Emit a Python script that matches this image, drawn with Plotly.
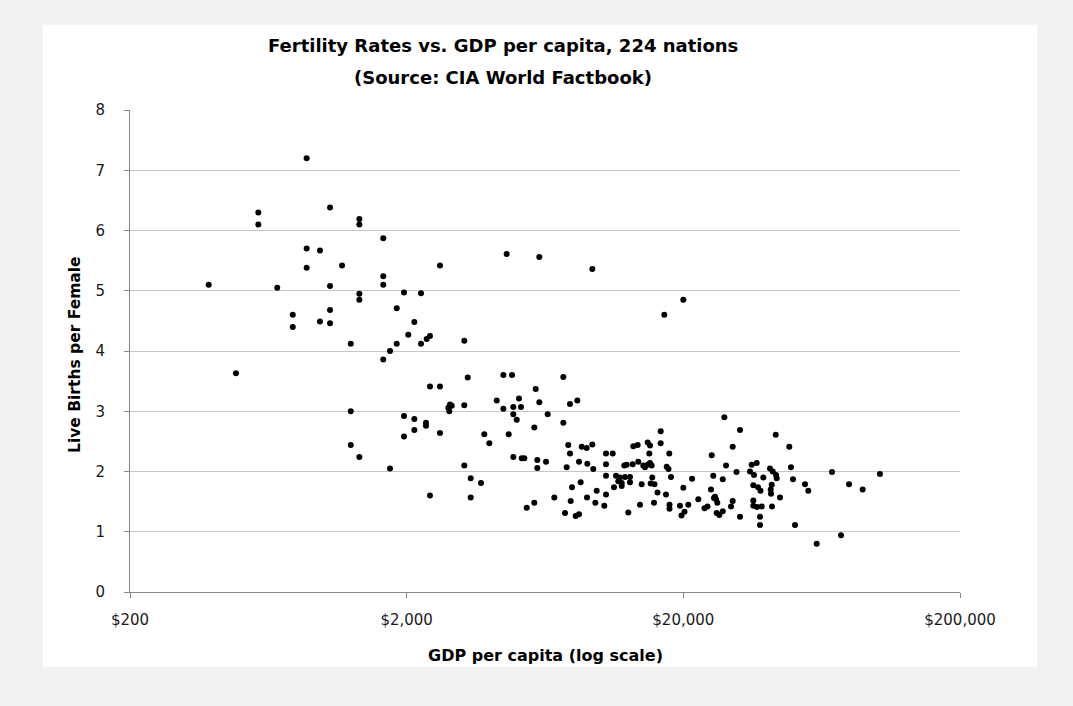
import plotly.graph_objects as go

# GDP per capita (US$) and fertility (live births per female)
gdp = [385, 483, 582, 582, 681, 775, 775, 870, 870, 870,
       972, 972, 1057, 1057, 1057, 1057, 1168, 1256, 1256, 1256,
       1349, 1349, 1349, 1349, 1349, 1646, 1646, 1646, 1646, 1741,
       1741, 1841, 1841, 1956, 1956, 1956, 2027, 2132, 2254, 2254,
       2363, 2428, 2639, 3231, 3324, 4472, 4807, 7366, 4598, 6032,
       9376, 2428, 2639, 5854, 4232, 5094, 6032, 8277, 7787, 2868,
       2910, 2829, 2852, 3231, 4858, 5178, 4472, 4858, 4998, 6467,
       2132, 2349, 2349, 7366, 5785, 2132, 2639, 3816, 4676, 3978,
       7677, 8585, 8948, 9376, 7787, 4858, 5209, 5324, 5932, 6378,
       8394, 8994, 5932, 7577, 9454, 3231, 3408, 3712, 7918, 8511,
       9725, 2428, 3408, 5785, 5432, 6835, 7832, 8972, 9613, 7470,
       8166, 8394, 20000, 17070, 16566, 16566, 13188, 13677, 14864, 15152,
       10508, 11111, 15067, 17794, 25328, 10508, 12235, 12484, 13122, 13746,
       14335, 14538, 14864, 15152, 15367, 17414, 17677, 10508, 11420, 11807,
       12307, 12830, 15444, 18050, 21506, 25660, 11640, 11974, 12830, 14142,
       15243, 15732, 11232, 11974, 20000, 25179, 10508, 16130, 17311, 26024,
       10359, 13943, 15664, 17826, 17826, 19450, 20843, 22651, 24454, 23853,
       20194, 19694, 12652, 26400, 26247, 28138, 32057, 43147, 30163, 48306,
       28530, 35327, 36825, 34829, 36011, 38907, 41142, 42080, 43254, 43505,
       48983, 49812, 31130, 27767, 55052, 56590, 35804, 37232, 38011, 41733,
       41384, 41489, 44712, 25813, 26533, 30163, 29741, 35804, 35804, 36921,
       38396, 41823, 27767, 26977, 32057, 37856, 37856, 50661, 68922, 102741,
       79423, 88968, 74303, 60677]

fertility = [5.10, 3.63, 6.30, 6.10, 5.05, 4.60, 4.40, 7.20, 5.70, 5.38,
             5.67, 4.49, 6.38, 5.08, 4.68, 4.46, 5.42, 4.12, 3.00, 2.44,
             6.19, 6.10, 4.95, 4.85, 2.24, 5.87, 5.24, 5.10, 3.86, 4.00,
             2.05, 4.71, 4.12, 4.97, 2.92, 2.58, 4.27, 4.48, 4.96, 4.12,
             4.20, 4.25, 5.42, 4.17, 3.56, 3.60, 3.60, 3.57, 5.61, 5.56,
             5.36, 3.41, 3.41, 3.37, 3.18, 3.21, 3.15, 3.18, 3.12, 3.11,
             3.09, 3.06, 3.00, 3.10, 3.07, 3.07, 3.04, 2.95, 2.86, 2.95,
             2.87, 2.81, 2.76, 2.81, 2.73, 2.69, 2.64, 2.62, 2.62, 2.47,
             2.44, 2.41, 2.39, 2.45, 2.30, 2.24, 2.22, 2.22, 2.19, 2.16,
             2.16, 2.13, 2.06, 2.07, 2.04, 2.10, 1.89, 1.81, 1.74, 1.82,
             1.68, 1.60, 1.57, 1.48, 1.40, 1.57, 1.51, 1.57, 1.48, 1.31,
             1.26, 1.29, 4.85, 4.60, 2.67, 2.47, 2.42, 2.44, 2.48, 2.43,
             2.30, 2.30, 2.30, 2.30, 2.27, 2.12, 2.10, 2.11, 2.12, 2.16,
             2.10, 2.07, 2.11, 2.14, 2.10, 2.08, 2.04, 1.93, 1.93, 1.90,
             1.91, 1.91, 1.90, 1.91, 1.88, 1.93, 1.84, 1.81, 1.82, 1.79,
             1.80, 1.79, 1.74, 1.76, 1.73, 1.70, 1.62, 1.65, 1.62, 1.58,
             1.43, 1.45, 1.48, 1.45, 1.38, 1.43, 1.45, 1.54, 1.42, 1.39,
             1.33, 1.27, 1.32, 1.31, 1.54, 2.90, 2.69, 2.61, 2.41, 2.41,
             2.10, 2.11, 2.14, 2.00, 1.94, 1.90, 2.05, 2.00, 1.94, 1.89,
             2.07, 1.87, 1.99, 1.87, 1.79, 1.68, 1.77, 1.74, 1.68, 1.78,
             1.70, 1.63, 1.57, 1.56, 1.48, 1.51, 1.42, 1.52, 1.43, 1.41,
             1.42, 1.42, 1.34, 1.28, 1.25, 1.25, 1.11, 1.11, 1.99, 1.96,
             1.79, 1.70, 0.94, 0.80]

x_tickvals = [200, 2000, 20000, 200000]
x_ticktext = ["$200", "$2,000", "$20,000", "$200,000"]
y_tickvals = [0, 1, 2, 3, 4, 5, 6, 7, 8]

title_lines = ["Fertility Rates vs. GDP per capita, 224 nations",
               "(Source: CIA World Factbook)"]
x_title = "GDP per capita (log scale)"
y_title = "Live Births per Female"

FONT = "'DejaVu Sans', Verdana, sans-serif"
W, H = 1073, 706
ML, MR, MT, MB = 130, 113, 110, 114
PW, PH = W - ML - MR, H - MT - MB

def px_x(px):
    return (px - ML) / PW

def px_y(py):
    return (H - MB - py) / PH

fig = go.Figure()
fig.add_trace(go.Scatter(
    x=gdp, y=fertility, mode="markers",
    marker=dict(color="black", size=6, line=dict(width=0)),
    showlegend=False, hoverinfo="x+y"))

fig.update_layout(
    width=W, height=H,
    margin=dict(l=ML, r=MR, t=MT, b=MB, pad=0),
    paper_bgcolor="#f2f2f2",
    plot_bgcolor="rgba(0,0,0,0)",
    font=dict(family=FONT, color="#262626"),
    shapes=[dict(type="rect", xref="paper", yref="paper",
                 x0=px_x(43), x1=px_x(1037), y0=px_y(667), y1=px_y(25),
                 fillcolor="white", line=dict(width=0), layer="below")],
    annotations=[
        dict(text="<b>%s</b>" % title_lines[0], xref="paper", yref="paper",
             x=px_x(503), y=px_y(45), xanchor="center", yanchor="middle",
             showarrow=False, font=dict(size=18, color="black", family=FONT)),
        dict(text="<b>%s</b>" % title_lines[1], xref="paper", yref="paper",
             x=px_x(503), y=px_y(77), xanchor="center", yanchor="middle",
             showarrow=False, font=dict(size=18, color="black", family=FONT)),
        dict(text="<b>%s</b>" % x_title, xref="paper", yref="paper",
             x=px_x(545), y=px_y(655), xanchor="center", yanchor="middle",
             showarrow=False, font=dict(size=16, color="black", family=FONT)),
        dict(text="<b>%s</b>" % y_title, xref="paper", yref="paper",
             x=px_x(75), y=px_y(355), xanchor="center", yanchor="middle",
             textangle=-90, showarrow=False,
             font=dict(size=15.5, color="black", family=FONT)),
    ],
)

fig.update_xaxes(
    type="log", range=[2.30103, 5.30103],
    tickvals=x_tickvals, ticktext=x_ticktext,
    showgrid=False, zeroline=False,
    showline=True, linecolor="#868686", linewidth=1,
    ticks="outside", ticklen=5, tickcolor="#868686",
    ticklabelstandoff=9,
    tickfont=dict(size=15, color="#1a1a1a"),
)
fig.update_yaxes(
    range=[0, 8], tickvals=y_tickvals,
    showgrid=True, gridcolor="#c6c6c6", gridwidth=1,
    zeroline=False,
    showline=True, linecolor="#868686", linewidth=1,
    ticks="outside", ticklen=5, tickcolor="#868686",
    ticklabelstandoff=16,
    tickfont=dict(size=15, color="#1a1a1a"),
)

fig.write_html(
    "out.html",
    config={"displayModeBar": False},
    post_script="document.body.style.margin='0';document.body.style.overflow='hidden';",
)
